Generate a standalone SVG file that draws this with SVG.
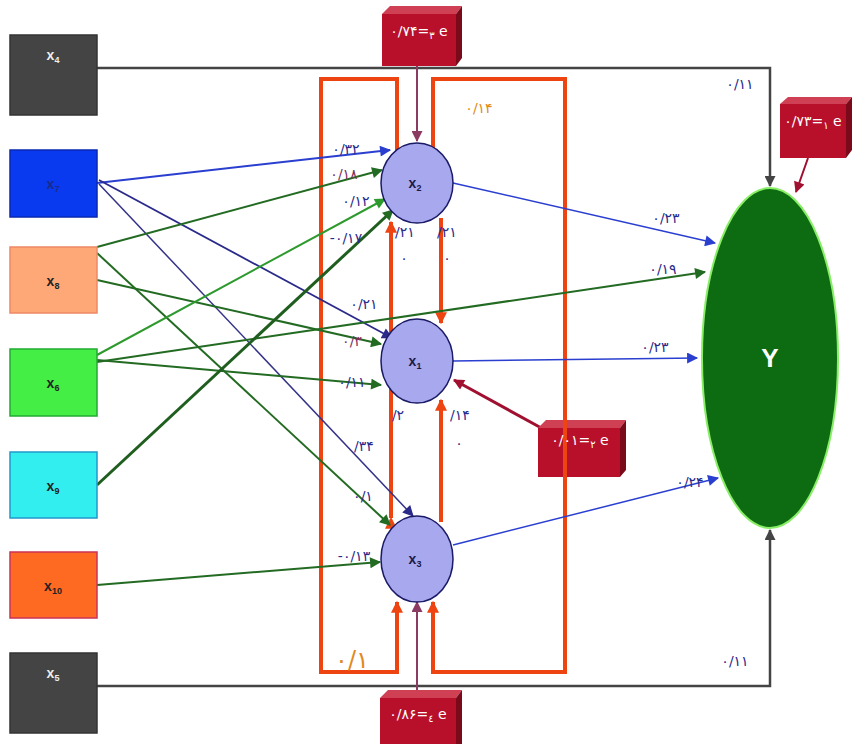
<svg xmlns="http://www.w3.org/2000/svg" width="854" height="744" viewBox="0 0 854 744">
<style>
.box{stroke-width:1.5}
.xl{font-family:"Liberation Sans",Arial,sans-serif;font-weight:bold;font-size:14px;text-anchor:middle}
.sub{font-size:9px}
.w{font-family:"DejaVu Sans",sans-serif;font-size:14px;text-anchor:middle}
.nv{fill:#2a2a8a}
.pu{fill:#7a3060}
.or{fill:#e08a20}
.node{fill:#a8a8ee;stroke:#1a1a66;stroke-width:1.5}
.red{fill:none;stroke:#ee4411;stroke-width:4}
.et{font-family:"DejaVu Sans",sans-serif;font-size:14px;fill:#fff;text-anchor:middle}
</style>
<defs>
<marker id="aB" viewBox="0 0 10 10" refX="9" refY="5" markerUnits="userSpaceOnUse" markerWidth="13" markerHeight="11" orient="auto"><path d="M0,0L10,5L0,10z" fill="#2a3fd0"/></marker>
<marker id="aN" viewBox="0 0 10 10" refX="9" refY="5" markerUnits="userSpaceOnUse" markerWidth="13" markerHeight="11" orient="auto"><path d="M0,0L10,5L0,10z" fill="#2a2a8a"/></marker>
<marker id="aG" viewBox="0 0 10 10" refX="9" refY="5" markerUnits="userSpaceOnUse" markerWidth="13" markerHeight="11" orient="auto"><path d="M0,0L10,5L0,10z" fill="#236b23"/></marker>
<marker id="aL" viewBox="0 0 10 10" refX="9" refY="5" markerUnits="userSpaceOnUse" markerWidth="13" markerHeight="11" orient="auto"><path d="M0,0L10,5L0,10z" fill="#2e9a2e"/></marker>
<marker id="aR" viewBox="0 0 10 10" refX="9" refY="5" markerUnits="userSpaceOnUse" markerWidth="13" markerHeight="12" orient="auto"><path d="M0,0L10,5L0,10z" fill="#ee4411"/></marker>
<marker id="aGr" viewBox="0 0 10 10" refX="9" refY="5" markerUnits="userSpaceOnUse" markerWidth="13" markerHeight="11" orient="auto"><path d="M0,0L10,5L0,10z" fill="#444"/></marker>
<marker id="aD" viewBox="0 0 10 10" refX="9" refY="5" markerUnits="userSpaceOnUse" markerWidth="13" markerHeight="11" orient="auto"><path d="M0,0L10,5L0,10z" fill="#a01030"/></marker>
<marker id="aP" viewBox="0 0 10 10" refX="9" refY="5" markerUnits="userSpaceOnUse" markerWidth="13" markerHeight="11" orient="auto"><path d="M0,0L10,5L0,10z" fill="#8b3a62"/></marker>
</defs>
<rect width="854" height="744" fill="#fff"/>

<g id="connectors">
<path d="M97,68H770V186" fill="none" stroke="#444" stroke-width="2.5" marker-end="url(#aGr)"/>
<path d="M97,686H770V530" fill="none" stroke="#444" stroke-width="2.5" marker-end="url(#aGr)"/>
<path class="red" d="M397,152V79H321V672H397V602" marker-start="url(#aR)" marker-end="url(#aR)"/>
<path class="red" d="M433,152V79H565V672H433V602" marker-start="url(#aR)" marker-end="url(#aR)"/>
<path class="red" d="M391,518V222" stroke-width="3" marker-end="url(#aR)" marker-start="url(#aR)"/>
<path class="red" d="M441,218V323" stroke-width="3" marker-end="url(#aR)"/>
<path class="red" d="M441,522V400" stroke-width="3" marker-end="url(#aR)"/>
<line x1="97" y1="183" x2="390" y2="150" stroke="#2a3fd0" stroke-width="2" marker-end="url(#aB)"/>
<line x1="99" y1="180" x2="392" y2="338" stroke="#2a2a8a" stroke-width="1.8" marker-end="url(#aN)"/>
<line x1="99" y1="184" x2="413" y2="516" stroke="#333388" stroke-width="1.5" marker-end="url(#aN)"/>
<line x1="97" y1="247" x2="382" y2="170" stroke="#236b23" stroke-width="2" marker-end="url(#aG)"/>
<line x1="97" y1="280" x2="381" y2="344" stroke="#236b23" stroke-width="2" marker-end="url(#aG)"/>
<line x1="97" y1="253" x2="390" y2="525" stroke="#236b23" stroke-width="2" marker-end="url(#aG)"/>
<line x1="97" y1="355" x2="385" y2="199" stroke="#2e9a2e" stroke-width="2" marker-end="url(#aL)"/>
<line x1="97" y1="360" x2="381" y2="385" stroke="#236b23" stroke-width="2" marker-end="url(#aG)"/>
<line x1="97" y1="362" x2="705" y2="272" stroke="#236b23" stroke-width="2" marker-end="url(#aG)"/>
<line x1="97" y1="485" x2="393" y2="210" stroke="#1f5e1f" stroke-width="3" marker-end="url(#aG)"/>
<line x1="97" y1="585" x2="380" y2="562" stroke="#236b23" stroke-width="2" marker-end="url(#aG)"/>
<line x1="453" y1="183" x2="715" y2="243" stroke="#2a3fd0" stroke-width="1.5" marker-end="url(#aB)"/>
<line x1="453" y1="361" x2="697" y2="358" stroke="#2a3fd0" stroke-width="1.5" marker-end="url(#aB)"/>
<line x1="453" y1="545" x2="718" y2="478" stroke="#2a3fd0" stroke-width="1.5" marker-end="url(#aB)"/>
<line x1="417" y1="66" x2="417" y2="141" stroke="#8b3a62" stroke-width="2" marker-end="url(#aP)"/>
<line x1="417" y1="690" x2="417" y2="602" stroke="#8b3a62" stroke-width="2" marker-end="url(#aP)"/>
<line x1="808" y1="158" x2="796" y2="192" stroke="#a01030" stroke-width="2" marker-end="url(#aD)"/>
<line x1="545" y1="430" x2="454" y2="380" stroke="#a01030" stroke-width="3" marker-end="url(#aD)"/>
</g>

<g id="weights">
<text class="w nv" x="346" y="154">۰/۳۲</text>
<text class="w pu" x="344" y="179">۰/۱۸</text>
<text class="w nv" x="356" y="206">۰/۱۲</text>
<text class="w nv" x="346" y="243">-۰/۱۷</text>
<text class="w nv" x="364" y="309">۰/۲۱</text>
<text class="w pu" x="352" y="346">۰/۳</text>
<text class="w nv" x="352" y="387">۰/۱۱</text>
<text class="w nv" x="364" y="451">/۳۴</text>
<text class="w nv" x="363" y="501">۰/۱</text>
<text class="w nv" x="354" y="561">-۰/۱۳</text>
<text class="w nv" x="405" y="237">/۲۱</text>
<text class="w nv" x="404" y="263">۰</text>
<text class="w nv" x="447" y="237">/۲۱</text>
<text class="w nv" x="447" y="263">۰</text>
<text class="w nv" x="398" y="420">/۲</text>
<text class="w nv" x="460" y="420">/۱۴</text>
<text class="w nv" x="459" y="448">۰</text>
<text class="w or" x="479" y="113" font-size="15">۰/۱۴</text>
<text x="352" y="668" style="font-family:'DejaVu Sans',sans-serif;font-size:24px;fill:#e08a20;text-anchor:middle">۰/۱</text>
<text class="w nv" x="666" y="223">۰/۲۳</text>
<text class="w nv" x="663" y="274">۰/۱۹</text>
<text class="w nv" x="655" y="352">۰/۲۳</text>
<text class="w nv" x="690" y="487">۰/۲۴</text>
<text class="w nv" x="740" y="89">۰/۱۱</text>
<text class="w nv" x="735" y="666">۰/۱۱</text>
</g>

<g id="x4"><rect x="10" y="35" width="87" height="80" fill="#444" stroke="#333" class="box"/><text class="xl" x="53" y="60" fill="#eee">x<tspan class="sub" dy="3">4</tspan></text></g>
<g id="x7"><rect x="10" y="150" width="87" height="67" fill="#0a3af0" stroke="#0a2ab0" class="box"/><text class="xl" x="53" y="189" fill="#1a2a88">x<tspan class="sub" dy="3">7</tspan></text></g>
<g id="x8"><rect x="10" y="247" width="87" height="66" fill="#ffa877" stroke="#ee8866" class="box"/><text class="xl" x="53" y="286" fill="#222">x<tspan class="sub" dy="3">8</tspan></text></g>
<g id="x6"><rect x="10" y="349" width="87" height="67" fill="#44ee44" stroke="#22aa33" class="box"/><text class="xl" x="53" y="388" fill="#222">x<tspan class="sub" dy="3">6</tspan></text></g>
<g id="x9"><rect x="10" y="452" width="87" height="66" fill="#33eeee" stroke="#2299cc" class="box"/><text class="xl" x="53" y="491" fill="#222">x<tspan class="sub" dy="3">9</tspan></text></g>
<g id="x10"><rect x="10" y="552" width="87" height="66" fill="#ff6a22" stroke="#cc3355" class="box"/><text class="xl" x="53" y="591" fill="#222">x<tspan class="sub" dy="3">10</tspan></text></g>
<g id="x5"><rect x="10" y="653" width="87" height="80" fill="#444" stroke="#333" class="box"/><text class="xl" x="53" y="678" fill="#eee">x<tspan class="sub" dy="3">5</tspan></text></g>

<g id="x2"><ellipse class="node" cx="417" cy="183" rx="36" ry="40"/><text class="xl" x="415" y="188" fill="#1a1a44">x<tspan class="sub" dy="3">2</tspan></text></g>
<g id="x1"><ellipse class="node" cx="417" cy="361" rx="36" ry="42"/><text class="xl" x="415" y="366" fill="#1a1a44">x<tspan class="sub" dy="3">1</tspan></text></g>
<g id="x3"><ellipse class="node" cx="417" cy="559" rx="36" ry="43"/><text class="xl" x="415" y="564" fill="#1a1a44">x<tspan class="sub" dy="3">3</tspan></text></g>

<g id="Y"><ellipse cx="770" cy="358" rx="68" ry="170" fill="#0d6b12" stroke="#88ee66" stroke-width="2"/><text x="770" y="367" style="font-family:'Liberation Sans',sans-serif;font-weight:bold;font-size:26px;fill:#fff;text-anchor:middle">Y</text></g>

<g id="e3">
<path d="M382,14L390,6H462L456,14z" fill="#d04055"/>
<path d="M456,14L462,6V58L456,66z" fill="#7a0a1a"/>
<rect x="382" y="14" width="74" height="52" fill="#b8102a"/>
<text class="et" x="419" y="36">۰/۷۴=<tspan font-size="10" dy="3">۳</tspan><tspan dy="-3"> e</tspan></text>
</g>
<g id="e1">
<path d="M780,104L788,97H852L846,104z" fill="#d04055"/>
<path d="M846,104L852,97V150L846,158z" fill="#7a0a1a"/>
<rect x="780" y="104" width="66" height="54" fill="#b8102a"/>
<text class="et" x="813" y="126">۰/۷۳=<tspan font-size="10" dy="3">۱</tspan><tspan dy="-3"> e</tspan></text>
</g>
<g id="e2">
<path d="M538,428L546,420H626L620,428z" fill="#d04055"/>
<path d="M620,428L626,420V470L620,477z" fill="#7a0a1a"/>
<rect x="538" y="428" width="82" height="49" fill="#b8102a"/>
<line x1="565" y1="420" x2="565" y2="477" stroke="#ee4411" stroke-width="4"/>
<text class="et" x="580" y="445">۰/۰۱=<tspan font-size="10" dy="3">۲</tspan><tspan dy="-3"> e</tspan></text>
</g>
<g id="e4">
<path d="M380,698L388,690H462L456,698z" fill="#d04055"/>
<path d="M456,698L462,690V744H456z" fill="#7a0a1a"/>
<rect x="380" y="698" width="76" height="46" fill="#b8102a"/>
<text class="et" x="418" y="719">۰/۸۶=<tspan font-size="10" dy="3">٤</tspan><tspan dy="-3"> e</tspan></text>
</g>
</svg>
